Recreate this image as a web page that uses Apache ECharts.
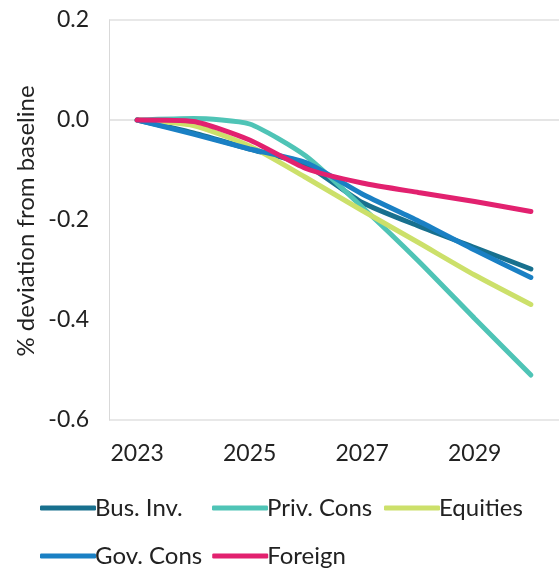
<!DOCTYPE html>
<html>
<head>
<meta charset="utf-8">
<script src="https://cdn.jsdelivr.net/npm/echarts@6/dist/echarts.min.js"></script>
<style>
html,body{margin:0;padding:0;background:#fff;}
#chart{width:559px;height:568px;}
</style>
</head>
<body>
<div id="chart"></div>
<script>
const years = ['2023','2024','2025','2026','2027','2028','2029','2030'];
const busInv   = [0, -0.026, -0.058, -0.090, -0.165, -0.212, -0.255, -0.298];
const privCons = [0,  0.003, -0.008, -0.072, -0.174, -0.282, -0.397, -0.510];
const equities = [0, -0.011, -0.052, -0.115, -0.181, -0.245, -0.310, -0.369];
const govCons  = [0, -0.028, -0.058, -0.085, -0.148, -0.202, -0.260, -0.315];
const foreign  = [0, -0.003, -0.040, -0.097, -0.126, -0.145, -0.163, -0.183];
const seriesNames = ['Bus. Inv.', 'Priv. Cons', 'Equities', 'Gov. Cons', 'Foreign'];
const seriesColors = ['#18708e', '#4fc4b6', '#cce06a', '#1a80c4', '#e2216f'];
const yTicks = [-0.6, -0.4, -0.2, 0.0, 0.2];
const yAxisTitle = '% deviation from baseline';

const dataSets = [busInv, privCons, equities, govCons, foreign];
const font = 'Lato, "Noto Sans", sans-serif';

const chart = echarts.init(document.getElementById('chart'));
chart.setOption({
  animation: false,
  backgroundColor: '#fff',
  grid: { left: 109, top: 20, width: 456, height: 400, containLabel: false },
  xAxis: {
    type: 'category',
    data: years,
    boundaryGap: true,
    axisLine: { show: false },
    axisTick: { show: false },
    splitLine: { show: false },
    axisLabel: {
      interval: 1,
      margin: 22,
      fontSize: 23,
      color: '#222',
      fontFamily: font
    }
  },
  yAxis: {
    type: 'value',
    min: yTicks[0],
    max: yTicks[yTicks.length - 1],
    interval: 0.2,
    axisLine: { show: true, lineStyle: { color: '#d9d9d9', width: 1 } },
    axisTick: { show: false },
    splitLine: {
      show: true,
      lineStyle: { color: ['#e0e0e0', 'rgba(0,0,0,0)', 'rgba(0,0,0,0)', '#dcdcdc', '#e0e0e0'], width: 1.5 }
    },
    axisLabel: {
      margin: 20,
      fontSize: 23,
      color: '#222',
      fontFamily: font,
      formatter: v => v.toFixed(1)
    }
  },
  graphic: [{
    type: 'text',
    x: 26, y: 221,
    rotation: Math.PI / 2,
    style: {
      text: yAxisTitle,
      fontSize: 24,
      fontFamily: font,
      fill: '#222',
      align: 'center',
      verticalAlign: 'middle'
    }
  }],
  legend: {
    left: 35,
    top: 484,
    width: 520,
    icon: 'roundRect',
    itemWidth: 56,
    itemHeight: 5,
    itemGap: 10,
    itemStyle: { borderWidth: 0 },
    textStyle: {
      fontSize: 24,
      fontFamily: font,
      color: '#222',
      width: 107,
      overflow: 'none',
      lineHeight: 38,
      padding: [0, 0, 0, -6]
    },
    data: seriesNames
  },
  series: seriesNames.map((n, i) => ({
    name: n,
    type: 'line',
    data: dataSets[i],
    symbol: 'none',
    smooth: 0.2,
    color: seriesColors[i],
    lineStyle: { width: 5, color: seriesColors[i], cap: 'round' }
  }))
});
</script>
</body>
</html>
